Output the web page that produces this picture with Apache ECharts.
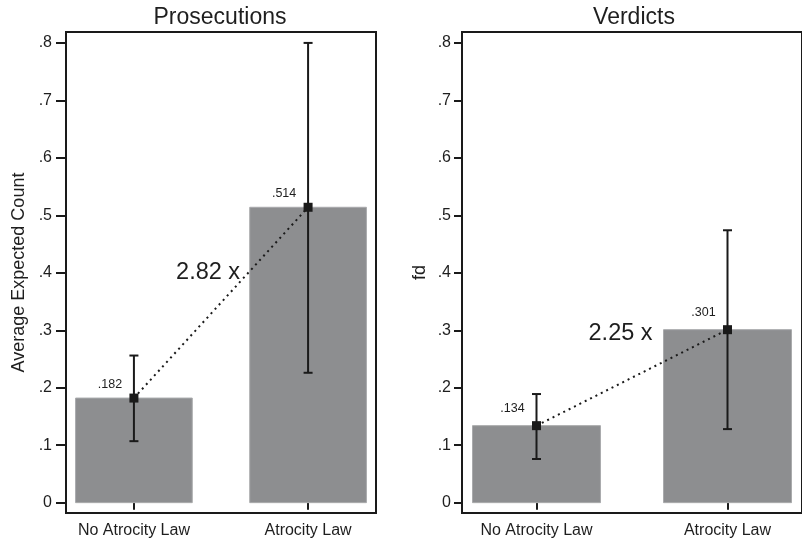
<!DOCTYPE html>
<html>
<head>
<meta charset="utf-8">
<script src="https://cdn.jsdelivr.net/npm/echarts@6/dist/echarts.min.js"></script>
<style>
	* { margin: 0; padding: 0; }
	body { background: #fff; }
	#main { width: 802px; height: 541px; }
</style>
</head>
<body>
<div id="main"></div>
<script>
	// data
	var categories = ['No Atrocity Law', 'Atrocity Law'];
	var panelTitles = ['Prosecutions', 'Verdicts'];
	var yNames = ['Average Expected Count', 'fd'];
	var prosMean = [0.182, 0.514];
	var prosLow = [0.107, 0.226];
	var prosHigh = [0.256, 0.800];
	var verdMean = [0.134, 0.301];
	var verdLow = [0.076, 0.128];
	var verdHigh = [0.189, 0.474];
	var ratioLabels = ['2.82 x', '2.25 x'];
	var yTicks = [0, 0.1, 0.2, 0.3, 0.4, 0.5, 0.6, 0.7, 0.8];

	var FONT = 'Liberation Sans, Arial, Helvetica, sans-serif';
	var barColor = '#8d8e90';
	var ink = '#1a1a1a';
	var txt = '#1e1e1e';
	var xs = [1, 2];

	function fmtTick(v) {
		if (v === 0) return '0';
		return String(Math.round(v * 10) / 10).replace('0.', '.');
	}
	function fmtVal(v) {
		return String(v.toFixed(3)).replace('0.', '.');
	}

	var chart = echarts.init(document.getElementById('main'));

	function xAxisFor(i) {
		return {
			type: 'value', gridIndex: i, min: 0.61, max: 2.39,
			axisLine: { show: false },
			splitLine: { show: false },
			axisTick: { show: true, customValues: xs, length: 7, lineStyle: { color: ink, width: 2 } },
			axisLabel: {
				customValues: xs, margin: 10, fontSize: 16, color: txt, fontFamily: FONT,
				formatter: function (v) { return categories[Math.round(v) - 1]; }
			}
		};
	}
	function yAxisFor(i) {
		return {
			type: 'value', gridIndex: i, min: -0.018, max: 0.819,
			name: yNames[i], nameLocation: 'middle', nameGap: i === 0 ? 38 : 33,
			nameTextStyle: { fontSize: 18, color: txt, fontFamily: FONT },
			axisLine: { show: false },
			splitLine: { show: false },
			axisTick: { show: true, customValues: yTicks, length: i === 0 ? 10 : 8, lineStyle: { color: ink, width: 2 } },
			axisLabel: {
				customValues: yTicks, margin: i === 0 ? 14 : 11, fontSize: 16, color: txt, fontFamily: FONT,
				formatter: fmtTick
			}
		};
	}

	function panelSeries(i, mean, low, high, ratio, labelDy) {
		var barData = xs.map(function (x, k) { return [x, mean[k]]; });
		var errData = xs.map(function (x, k) { return [x, low[k], high[k]]; });
		return [
			{
				type: 'custom', xAxisIndex: i, yAxisIndex: i, z: 1,
				data: barData,
				renderItem: function (params, api) {
					var x = api.value(0), y = api.value(1);
					var tl = api.coord([x - 0.335, y]);
					var br = api.coord([x + 0.335, 0]);
					var c = api.coord([x, y]);
					return {
						type: 'group',
						children: [{
							type: 'rect',
							shape: { x: tl[0], y: tl[1], width: br[0] - tl[0], height: br[1] - tl[1] },
							style: { fill: barColor, stroke: '#a9aaac', lineWidth: 1 }
						}, {
							type: 'text',
							style: {
								x: c[0] - 24, y: c[1] - labelDy, text: fmtVal(y),
								fill: txt, fontSize: 12.5, fontFamily: FONT,
								align: 'center', verticalAlign: 'middle'
							}
						}]
					};
				}
			},
			{
				type: 'line', xAxisIndex: i, yAxisIndex: i, z: 2,
				data: barData, symbol: 'none', silent: true,
				lineStyle: { color: ink, width: 2, type: [2, 4] }
			},
			{
				type: 'custom', xAxisIndex: i, yAxisIndex: i, z: 3,
				data: errData,
				renderItem: function (params, api) {
					var x = api.value(0);
					var lo = api.coord([x, api.value(1)]);
					var hi = api.coord([x, api.value(2)]);
					var st = { stroke: ink, lineWidth: 2 };
					return {
						type: 'group',
						children: [
							{ type: 'line', shape: { x1: lo[0], y1: lo[1], x2: hi[0], y2: hi[1] }, style: st },
							{ type: 'line', shape: { x1: lo[0] - 4.5, y1: lo[1], x2: lo[0] + 4.5, y2: lo[1] }, style: st },
							{ type: 'line', shape: { x1: hi[0] - 4.5, y1: hi[1], x2: hi[0] + 4.5, y2: hi[1] }, style: st }
						]
					};
				}
			},
			{
				type: 'scatter', xAxisIndex: i, yAxisIndex: i, z: 4,
				data: barData, symbol: 'rect', symbolSize: 9,
				itemStyle: { color: ink, opacity: 1 }
			},
			{
				type: 'scatter', xAxisIndex: i, yAxisIndex: i, z: 5,
				data: [ratio.pos], symbolSize: 0,
				itemStyle: { opacity: 1 },
				label: {
					show: true, position: 'inside', formatter: ratio.text,
					fontSize: 23.5, color: txt, opacity: 1, fontFamily: FONT
				}
			}
		];
	}

	chart.setOption({
		animation: false,
		backgroundColor: '#fff',
		title: [{
			text: panelTitles[0], left: 215, top: 1, textAlign: 'center',
			textStyle: { fontSize: 23, fontWeight: 'normal', color: txt, fontFamily: FONT }
		}, {
			text: panelTitles[1], left: 629, top: 1, textAlign: 'center',
			textStyle: { fontSize: 23, fontWeight: 'normal', color: txt, fontFamily: FONT }
		}],
		grid: [
			{ left: 66, top: 32, width: 310, height: 481, show: true, borderColor: ink, borderWidth: 2, backgroundColor: '#fff' },
			{ left: 462, top: 32, width: 347, height: 481, show: true, borderColor: ink, borderWidth: 2, backgroundColor: '#fff' }
		],
		xAxis: [xAxisFor(0), xAxisFor(1)],
		yAxis: [yAxisFor(0), yAxisFor(1)],
		series: [].concat(
			panelSeries(0, prosMean, prosLow, prosHigh, { text: ratioLabels[0], pos: [1.426, 0.401] }, 14),
			panelSeries(1, verdMean, verdLow, verdHigh, { text: ratioLabels[1], pos: [1.44, 0.295] }, 17)
		)
	});
</script>
</body>
</html>
